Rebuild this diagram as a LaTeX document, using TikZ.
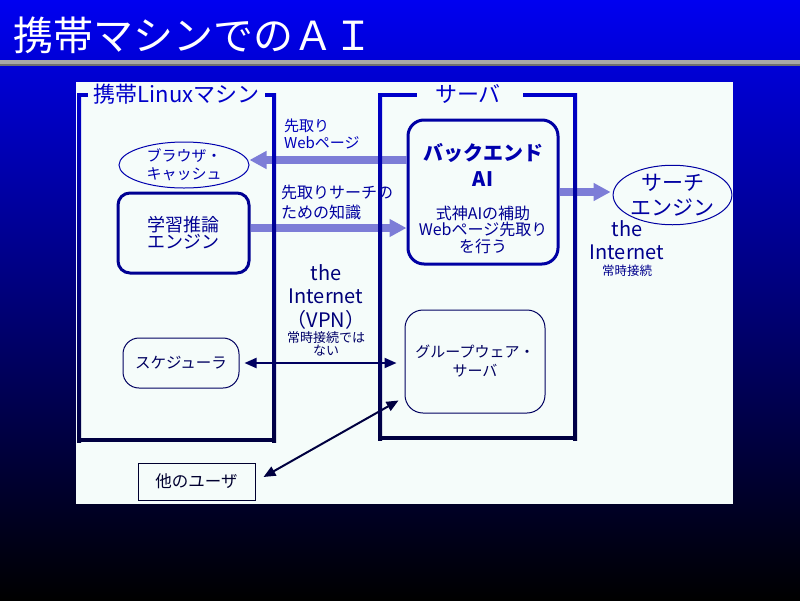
\documentclass[tikz,border=0pt]{standalone}
\usepackage{fontspec}
\setmainfont{Noto Sans CJK JP}
\usetikzlibrary{arrows.meta,shapes.geometric,calc}
\newcommand\mkcol[2]{\pgfmathtruncatemacro\myv{240*(1-#2/600)}\definecolor{#1}{RGB}{0,0,\myv}}
\mkcol{c93}{93}
\mkcol{c95}{95}
\mkcol{c133}{133}
\mkcol{c165}{165}
\mkcol{c192}{192}
\mkcol{c195}{195}
\mkcol{c202}{202}
\mkcol{c233}{233}
\mkcol{c250}{250}
\mkcol{c297}{297}
\mkcol{c344}{344}
\mkcol{c362}{362}
\mkcol{c438}{438}
\mkcol{c440}{440}
\mkcol{c442}{442}
\mkcol{c481}{481}
\definecolor{bgtop}{RGB}{0,0,240}
\definecolor{panel}{RGB}{245,252,250}
\definecolor{hatchc}{RGB}{125,125,215}
\definecolor{grayA}{RGB}{168,168,168}
\definecolor{grayB}{RGB}{112,112,112}
\newcommand\fsz[2]{\fontsize{#1pt}{#2pt}\selectfont}
\begin{document}
\begin{tikzpicture}[x=1pt,y=-1pt,
  thinbox/.style={line width=1pt, inner sep=0pt, align=center},
  thickbox/.style={line width=3pt, inner sep=0pt, align=center},
  lbl/.style={inner sep=0pt, align=center},
  hatch/.style={line width=8pt, draw=hatchc, -{Triangle[length=17pt,width=17pt]}},
  thinarrow/.style={line width=2pt, {Triangle[length=12pt,width=10pt]}-{Triangle[length=12pt,width=10pt]}}
]
\useasboundingbox (0,0) rectangle (800,600);
\shade[top color=bgtop, bottom color=black] (0,0) rectangle (800,600);
\fill[grayA] (0,60) rectangle (800,63.5);
\fill[grayB] (0,63.5) rectangle (800,66);
\node[lbl, anchor=west, text=white, font=\fsz{40}{40}] (title) at (13,35) {携帯マシンでのＡＩ};
\fill[panel] (76,82) rectangle (733,504);

% nodes
\node[thinbox, ellipse, draw=c165, text=c165, font=\fsz{15}{18},
      minimum width=130pt, minimum height=46pt] (browser) at (184,165) {ブラウザ・\\キャッシュ};
\node[thickbox, rectangle, rounded corners=12pt, draw=c233, text=c233, font=\fsz{18}{17},
      minimum width=131pt, minimum height=80pt] (engine) at (183.5,233) {学習推論\\エンジン};
\node[thickbox, rectangle, rounded corners=16pt, draw=c192,
      minimum width=150pt, minimum height=144pt] (backend) at (483,192) {};
\node[lbl, text=c165, font=\bfseries\fsz{20}{26}] (bt1) at (483,165) {バックエンド\\AI};
\node[lbl, text=c233, font=\fsz{16}{16.5}] (bt2) at (483,229.5) {式神AIの補助\\Webページ先取り\\を行う};
\node[thinbox, ellipse, draw=c195, text=c195, font=\fsz{21}{25},
      minimum width=111pt, minimum height=56pt] (search) at (672.5,195) {サーチ\\エンジン};
\node[thinbox, rectangle, rounded corners=18pt, draw=c362, text=c362, font=\fsz{15}{19},
      minimum width=140pt, minimum height=103pt] (gw) at (475,361.5) {グループウェア・\\サーバ};
\node[thinbox, rectangle, rounded corners=16pt, draw=c362, text=c362, font=\fsz{15.5}{18},
      minimum width=116pt, minimum height=50pt] (sched) at (181,363) {スケジューラ};
\node[thinbox, rectangle, draw=c481, text=c481, font=\fsz{16.5}{18},
      minimum width=117pt, minimum height=37pt] (other) at (196.5,481.5) {他のユーザ};

% labels
\node[lbl, anchor=west, align=left, text=c133, font=\fsz{15}{17}] (l1) at (284,133.5) {先取り\\Webページ};
\node[lbl, anchor=west, align=left, text=c202, font=\fsz{16}{20}] (l2) at (281,202) {先取りサーチの\\ための知識};
\node[lbl, text=c297, font=\fsz{20}{23.5}] (inet1) at (326,296.5) {the\\Internet\\（VPN）};
\node[lbl, text=c344, font=\fsz{13}{12.5}] (inet1s) at (326,344) {常時接続では\\ない};
\node[lbl, text=c250, font=\fsz{20}{23}] (inet2) at (627,240.5) {the\\Internet};
\node[lbl, text=c250, font=\fsz{12.5}{13}] (inet2s) at (627,270.5) {常時接続};

% hatched arrows
\coordinate (a1s) at ($(backend.west)+(0,-32)$);
\draw[hatch] (a1s) -- (browser.east |- a1s);
\coordinate (a2s) at ($(engine.east)+(0,-5)$);
\draw[hatch] (a2s) -- (backend.west |- a2s);
\coordinate (a3e) at ($(search.west |- backend.east)+(-2,0)$);
\draw[hatch] (backend.east) -- (a3e);

% thin arrows
\draw[thinarrow, draw=c362, fill=c362, shorten <=5pt, shorten >=8pt] (sched.east) -- (gw.west |- sched.east);
\coordinate (u1) at ($(other.east)+(8,-4.5)$);
\coordinate (u2) at ($(gw.south west)+(-6,-13)$);
\draw[thinarrow, draw=c438, fill=c438] (u1) -- (u2);

% frames: left machine
\shade[top color=c93, bottom color=c442] (77,93) rectangle (81,442);
\shade[top color=c93, bottom color=c442] (272,93) rectangle (276,442);
\fill[c440] (77,438) rectangle (276,442);
\fill[c95] (77,93) rectangle (88,97);
\fill[c95] (265,93) rectangle (276,97);
\node[lbl, text=c95, font=\fsz{22}{22}] (lmtitle) at (176.5,94) {携帯Linuxマシン};
% frames: server
\shade[top color=c93, bottom color=c440] (378,93) rectangle (382,440);
\shade[top color=c93, bottom color=c440] (573,93) rectangle (577,440);
\fill[c438] (378,436) rectangle (577,440);
\fill[c95] (378,93) rectangle (417,97);
\fill[c95] (523,93) rectangle (577,97);
\node[lbl, text=c95, font=\fsz{22}{22}] (svtitle) at (468,94) {サーバ};
\end{tikzpicture}
\end{document}
